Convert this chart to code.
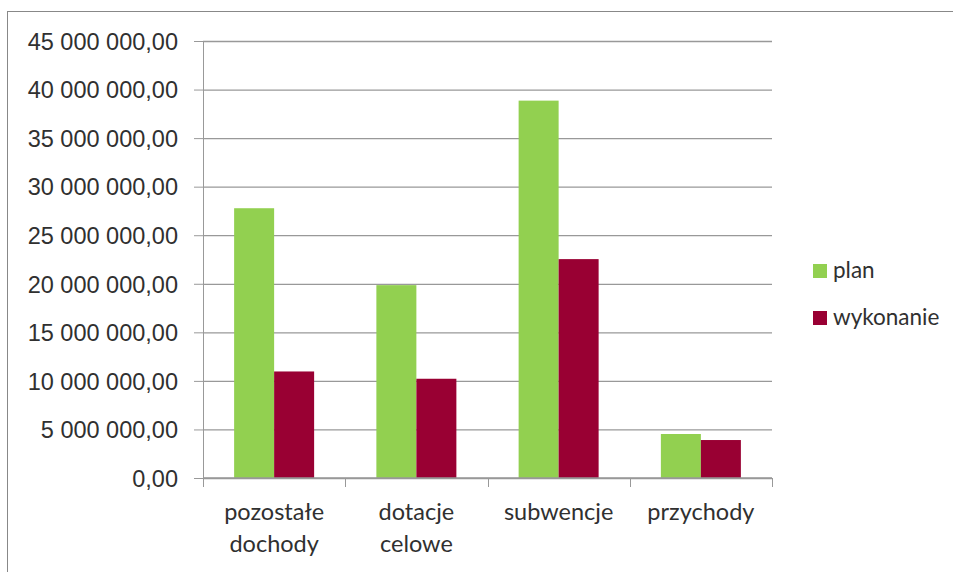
<!DOCTYPE html>
<html>
<head>
<meta charset="utf-8">
<script src="https://cdn.jsdelivr.net/npm/d3@7"></script>
<style>
  body { margin: 0; background: #fff; }
  svg { display: block; font-family: Lato, "Open Sans", sans-serif; }
</style>
</head>
<body>
<script>
const width = 953;
const height = 572;

const categories = [["pozostałe", "dochody"], ["dotacje", "celowe"], ["subwencje"], ["przychody"]];
const seriesNames = ["plan", "wykonanie"];
const planValues = [27780000, 19860000, 38860000, 4530000];
const wykonanieValues = [10970000, 10220000, 22540000, 3910000];
const yTicks = [0, 5e6, 10e6, 15e6, 20e6, 25e6, 30e6, 35e6, 40e6, 45e6];
const colors = ["#92d050", "#990033"];

let margin = { top: 41, right: 181, bottom: 94, left: 203 };

let svg = d3
  .select("body")
  .append("svg")
  .attr("width", width)
  .attr("height", height);

// chart border
svg
  .append("rect")
  .attr("x", 7.5)
  .attr("y", 11.5)
  .attr("width", width + 10)
  .attr("height", height + 10)
  .attr("fill", "none")
  .attr("stroke", "#888");

let rows = categories.map((c, i) => ({
  key: c.join(" "),
  lines: c,
  values: [planValues[i], wykonanieValues[i]],
}));

let xScale = d3
  .scaleBand()
  .domain(rows.map((d) => d.key))
  .range([margin.left, width - margin.right])
  .paddingInner(0.4376)
  .paddingOuter(0.2188);

let xSub = d3
  .scaleBand()
  .domain(seriesNames)
  .range([0, xScale.bandwidth()]);

let yScale = d3
  .scaleLinear()
  .domain([0, 45e6])
  .range([height - margin.bottom, margin.top]);

let fmt = (v) => {
  let s = d3.format(",.2f")(v);
  return s.replace(/,/g, " ").replace(".", ",");
};

// gridlines + left axis
let leftAxis = d3
  .axisLeft(yScale)
  .tickValues(yTicks)
  .tickSize(9)
  .tickPadding(16)
  .tickFormat(fmt);

let leftContainer = svg
  .append("g")
  .attr("transform", `translate(${margin.left}, 0)`)
  .call(leftAxis);

leftContainer.select(".domain").attr("stroke", "#999").attr("d", `M0.5,${margin.top}V${height - margin.bottom}`);
leftContainer.selectAll(".tick line").attr("stroke", "#999").attr("x2", -9);
leftContainer
  .selectAll(".tick")
  .append("line")
  .attr("x1", 0)
  .attr("x2", width - margin.right - margin.left)
  .attr("stroke", "#999")
  .attr("stroke-width", 1.3);
leftContainer
  .selectAll(".tick text")
  .style("font-size", "23.5px")
  .attr("fill", "#303030")
  .attr("dy", "0.35em");

// bars
let groups = svg
  .selectAll("g.cat")
  .data(rows)
  .join("g")
  .attr("class", "cat")
  .attr("transform", (d) => `translate(${xScale(d.key)}, 0)`);

groups
  .selectAll("rect")
  .data((d) => d.values.map((v, i) => ({ name: seriesNames[i], value: v, i: i })))
  .join("rect")
  .attr("x", (d) => xSub(d.name))
  .attr("y", (d) => yScale(d.value))
  .attr("width", xSub.bandwidth())
  .attr("height", (d) => yScale(0) - yScale(d.value))
  .attr("fill", (d) => colors[d.i]);

// bottom axis
let y0 = yScale(0);
let bottom = svg.append("g");
bottom
  .append("line")
  .attr("x1", margin.left)
  .attr("x2", width - margin.right)
  .attr("y1", y0)
  .attr("y2", y0)
  .attr("stroke", "#999")
  .attr("stroke-width", 1.3);

let step = xScale.step();
let edges = d3.range(rows.length + 1).map((i) => margin.left + i * step);
bottom
  .selectAll("line.tk")
  .data(edges)
  .join("line")
  .attr("class", "tk")
  .attr("x1", (d) => Math.round(d) + 0.5)
  .attr("x2", (d) => Math.round(d) + 0.5)
  .attr("y1", y0)
  .attr("y2", y0 + 9)
  .attr("stroke", "#999");

bottom
  .selectAll("text")
  .data(rows)
  .join("text")
  .attr("text-anchor", "middle")
  .attr("fill", "#303030")
  .style("font-size", "23.5px")
  .attr("transform", (d) => `translate(${xScale(d.key) + xScale.bandwidth() / 2}, 0)`)
  .selectAll("tspan")
  .data((d) => d.lines)
  .join("tspan")
  .attr("x", 0)
  .attr("y", (d, i) => 520 + i * 32)
  .text((d) => d);

// legend
let legend = svg
  .append("g")
  .selectAll("g")
  .data(seriesNames)
  .join("g")
  .attr("transform", (d, i) => `translate(813, ${264 + i * 47})`);

legend
  .append("rect")
  .attr("width", 14)
  .attr("height", 14)
  .attr("fill", (d, i) => colors[i]);

legend
  .append("text")
  .attr("x", 20)
  .attr("y", 14)
  .style("font-size", "22.5px")
  .attr("fill", "#303030")
  .text((d) => d);
</script>
</body>
</html>
